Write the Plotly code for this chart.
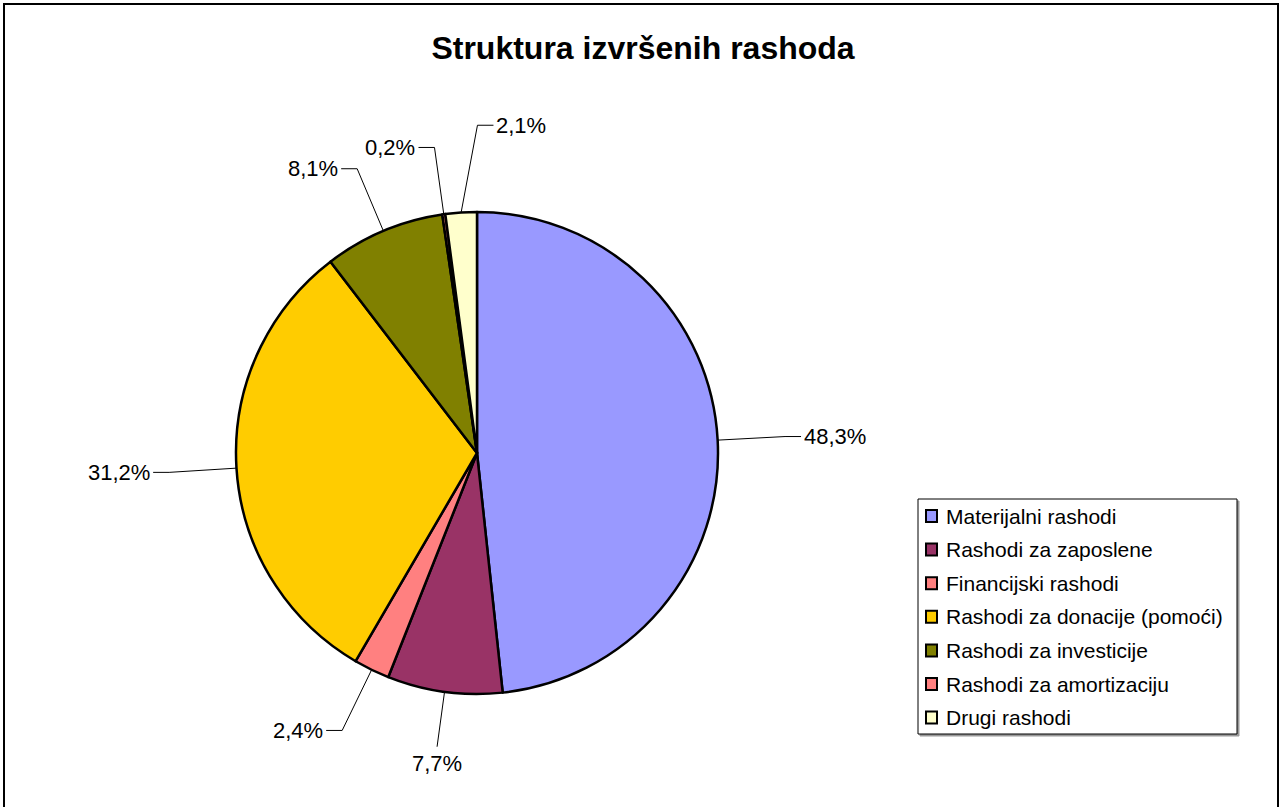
import math
import plotly.graph_objects as go

# ---- data ----
title = "Struktura izvršenih rashoda"
categories = ["Materijalni rashodi", "Rashodi za zaposlene", "Financijski rashodi",
              "Rashodi za donacije (pomoći)", "Rashodi za investicije",
              "Rashodi za amortizaciju", "Drugi rashodi"]
shares = [48.3, 7.7, 2.4, 31.2, 8.1, 0.2, 2.1]
colors = ["#9999FF", "#993366", "#FF8080", "#FFCC00", "#808000", "#FF8080", "#FFFFCC"]

# ---- geometry (pixels) ----
W, H = 1280, 807
CX, CY, R = 477, 453, 241
FONT = "Liberation Sans, Arial, sans-serif"


def px(x):
    return x / W


def py(y):
    return 1 - y / H


fig = go.Figure(go.Pie(
    labels=categories, values=shares, sort=False,
    direction="clockwise", rotation=0,
    marker=dict(colors=colors, line=dict(color="black", width=2.5)),
    textinfo="none", hoverinfo="label+percent",
    domain=dict(x=[px(CX - R), px(CX + R)], y=[py(CY + R), py(CY - R)]),
    showlegend=False,
))

shapes = []
annotations = []
total = sum(shares)
cum = 0.0
prev = None
for v in shares:
    mid = (cum + v / 2) / total * 360.0
    cum += v
    lab = mid
    k = 1.28
    if prev is not None and lab - prev < 8:
        lab = prev + 8
        k = 1.36
    prev = lab
    a = math.radians(mid)
    b = math.radians(lab)
    ax, ay = CX + R * math.sin(a), CY - R * math.cos(a)
    txt = f"{v:.1f}%".replace(".", ",")
    if math.cos(b) < -0.95:
        k = 1.23
        ex, ey = CX + k * R * math.sin(b), CY - k * R * math.cos(b)
        path = f"M {px(ax)} {py(ay)} L {px(ex)} {py(ey)}"
        annotations.append(dict(x=px(ex), y=py(ey + 2), xref="paper", yref="paper",
                                text=txt, showarrow=False, xanchor="center", yanchor="top",
                                font=dict(size=22, color="black", family=FONT)))
    else:
        ex, ey = CX + k * R * math.sin(b), CY - k * R * math.cos(b)
        side = 1 if math.sin(b) >= 0 else -1
        hx = ex + side * 16
        path = f"M {px(ax)} {py(ay)} L {px(ex)} {py(ey)} L {px(hx)} {py(ey)}"
        annotations.append(dict(x=px(hx + side * 1), y=py(ey), xref="paper", yref="paper",
                                text=txt, showarrow=False,
                                xanchor="left" if side > 0 else "right", yanchor="middle",
                                font=dict(size=22, color="black", family=FONT)))
    shapes.append(dict(type="path", path=path, xref="paper", yref="paper",
                       line=dict(color="black", width=1)))

# ---- legend (drawn from the category / colour lists) ----
LX0, LY0, LX1, LY1 = 918, 499, 1237, 734
ROW0, ROWH = 516, 33.6
shapes.append(dict(type="rect", xref="paper", yref="paper",
                   x0=px(LX0 + 2), x1=px(LX1 + 2), y0=py(LY1 + 2), y1=py(LY0 + 2),
                   line=dict(color="#999999", width=1), fillcolor="#999999", layer="below"))
shapes.append(dict(type="rect", xref="paper", yref="paper",
                   x0=px(LX0), x1=px(LX1), y0=py(LY1), y1=py(LY0),
                   line=dict(color="black", width=1), fillcolor="white", layer="below"))
for i, (name, col) in enumerate(zip(categories, colors)):
    yc = ROW0 + i * ROWH
    shapes.append(dict(type="rect", xref="paper", yref="paper",
                       x0=px(926), x1=px(937), y0=py(yc + 6), y1=py(yc - 6),
                       line=dict(color="black", width=2), fillcolor=col))
    annotations.append(dict(x=px(944), y=py(yc), xref="paper", yref="paper",
                            text=name, showarrow=False, xanchor="left", yanchor="middle",
                            font=dict(size=21, color="black", family=FONT)))

# outer frame
shapes.append(dict(type="rect", xref="paper", yref="paper",
                   x0=px(4), x1=px(1278), y0=py(820), y1=py(4),
                   line=dict(color="black", width=2)))

fig.update_layout(
    width=W, height=H, autosize=False,
    margin=dict(l=0, r=0, t=0, b=0),
    paper_bgcolor="white", plot_bgcolor="white",
    title=dict(text=f"<b>{title}</b>", x=px(643), y=py(48), xanchor="center", yanchor="middle",
               font=dict(size=32, color="black", family=FONT)),
    shapes=shapes, annotations=annotations,
    showlegend=False,
)

fig.write_html("out.html", config={"displayModeBar": False},
               post_script="document.body.style.margin='0';")
